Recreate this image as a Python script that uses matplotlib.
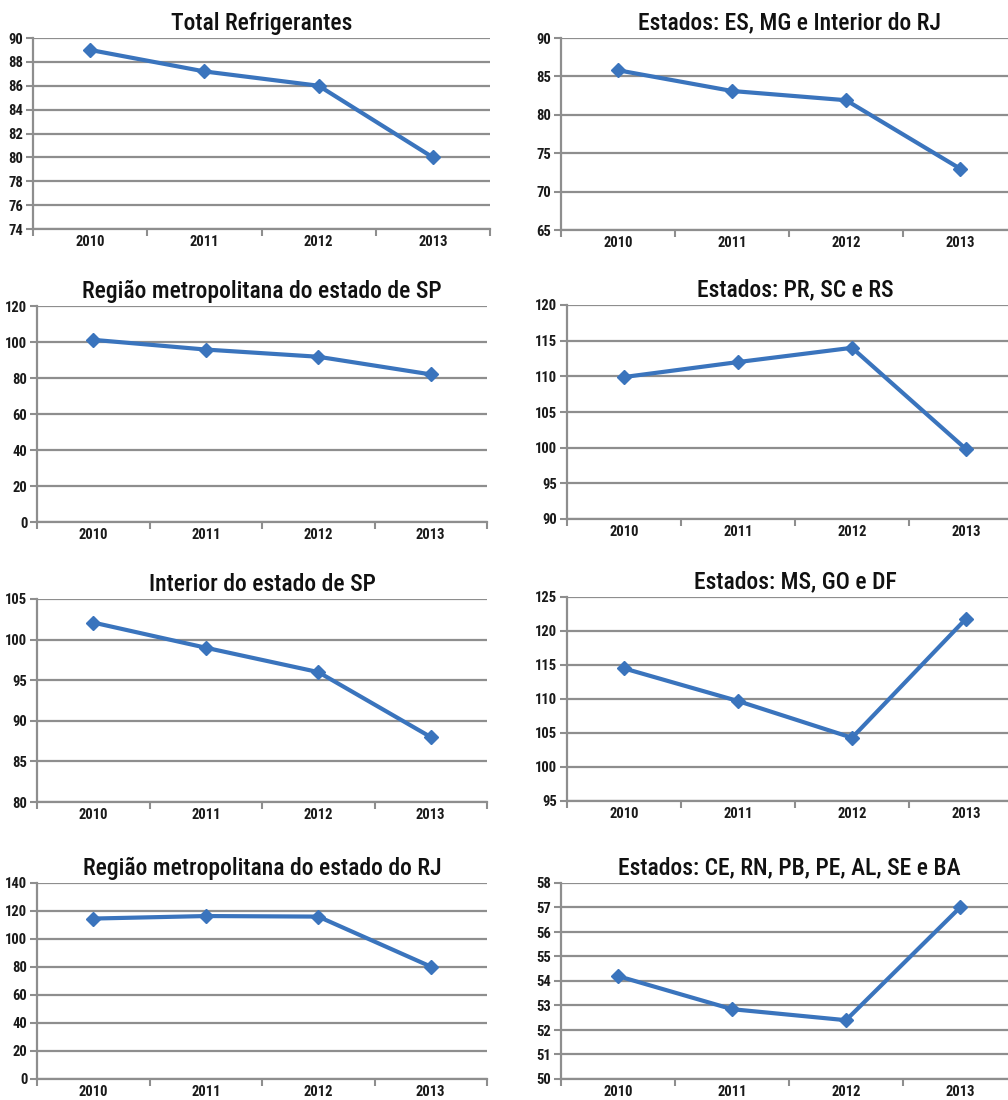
import matplotlib
matplotlib.use("Agg")
import matplotlib.pyplot as plt
from matplotlib import font_manager

# Pick a narrow sans family if one is installed
_available = {f.name for f in font_manager.fontManager.ttflist}
FAMILY = "DejaVu Sans"
for cand in ["Liberation Sans Narrow", "DejaVu Sans Condensed", "Roboto Condensed",
             "Open Sans Condensed", "Noto Sans Condensed"]:
    if cand in _available:
        FAMILY = cand
        break
plt.rcParams["font.family"] = [FAMILY, "DejaVu Sans"]

years = ["2010", "2011", "2012", "2013"]

total_refrigerantes = [89.0, 87.2, 86.0, 80.0]
es_mg_interior_rj = [85.8, 83.1, 81.9, 73.0]
metro_sp = [101.2, 95.8, 91.8, 82.0]
pr_sc_rs = [109.9, 112.0, 114.0, 99.8]
interior_sp = [102.1, 99.0, 96.0, 88.0]
ms_go_df = [114.5, 109.7, 104.3, 121.8]
metro_rj = [114.6, 116.4, 116.0, 80.3]
nordeste = [54.2, 52.85, 52.4, 57.0]

titles = [
    "Total Refrigerantes",
    "Estados: ES, MG e Interior do RJ",
    "Região metropolitana do estado de SP",
    "Estados: PR, SC e RS",
    "Interior do estado de SP",
    "Estados: MS, GO e DF",
    "Região metropolitana do estado do RJ",
    "Estados: CE, RN, PB, PE, AL, SE e BA",
]
series = [total_refrigerantes, es_mg_interior_rj, metro_sp, pr_sc_rs,
          interior_sp, ms_go_df, metro_rj, nordeste]
y_ranges = [(74, 90, 2), (65, 90, 5), (0, 120, 20), (90, 120, 5),
            (80, 105, 5), (95, 125, 5), (0, 140, 20), (50, 58, 1)]

W, H = 1008, 1100
# axes boxes in pixels: left, top, right, bottom
boxes = [
    (33, 38, 490, 229), (561, 38, 1017, 230),
    (37, 306, 487, 522), (567, 305, 1023, 519),
    (37, 599, 487, 802), (567, 597, 1023, 801),
    (37, 883, 487, 1079), (561, 883, 1017, 1079),
]

LINE = "#3a74bd"
GRID = "#8e8e8e"

fig = plt.figure(figsize=(W / 100, H / 100), dpi=100)
fig.patch.set_facecolor("white")

for title, vals, (lo, hi, step), (l, t, r, b) in zip(titles, series, y_ranges, boxes):
    ax = fig.add_axes([l / W, 1 - b / H, (r - l) / W, (b - t) / H])
    x = list(range(len(years)))
    ax.plot(x, vals, color=LINE, lw=3, marker="D", ms=7.5,
            markeredgecolor=LINE, zorder=3, clip_on=False)
    ax.set_xlim(-0.5, len(years) - 0.5)
    ax.set_ylim(lo, hi)
    ticks = list(range(lo, hi + 1, step))
    ax.set_yticks(ticks)
    ax.set_yticklabels([str(v) for v in ticks], fontsize=10.5)
    ax.yaxis.grid(True, color=GRID, lw=1.6)
    ax.set_axisbelow(True)
    ax.set_xticks(x)
    ax.set_xticklabels(years, fontsize=10.5)
    ax.set_xticks([i - 0.5 for i in range(len(years) + 1)], minor=True)
    ax.tick_params(axis="x", which="major", length=0, pad=4)
    ax.tick_params(axis="x", which="minor", length=5, width=1.5, color=GRID, direction="out")
    ax.tick_params(axis="y", length=5, width=1.5, color=GRID, pad=2)
    for side in ("top", "right"):
        ax.spines[side].set_visible(False)
    for side in ("left", "bottom"):
        ax.spines[side].set_color(GRID)
        ax.spines[side].set_linewidth(1.6)
    for lab in ax.get_xticklabels() + ax.get_yticklabels():
        lab.set_fontweight("bold")
        lab.set_color("#1a1a1a")
    ax.set_title(title, fontsize=17, pad=6, color="#111111", fontweight="medium")

fig.savefig("out.png", dpi=100, facecolor="white")
